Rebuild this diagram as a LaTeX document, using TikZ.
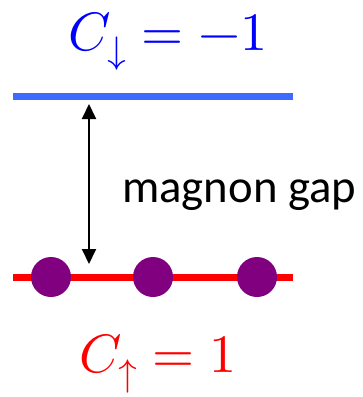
\documentclass[tikz,border=0pt]{standalone}
\usepackage{fontspec}
\usepackage{unicode-math}
\setmainfont{Carlito}
\setmathfont{Latin Modern Math}
\usepackage{tikz}
\usetikzlibrary{arrows.meta,positioning}
\definecolor{bandblue}{RGB}{61,107,255}
\definecolor{bandred}{RGB}{255,0,0}
\definecolor{txtblue}{RGB}{0,0,255}
\definecolor{dotpurple}{RGB}{128,0,128}

\begin{document}
\begin{tikzpicture}[x=1pt,y=-1pt,
  band/.style={line width=7pt},
  magdot/.style={circle,fill=dotpurple,minimum size=40pt,inner sep=0pt},
  lbl/.style={inner sep=0pt,anchor=base},
  gaparr/.style={{Triangle[length=15pt,width=14pt]}-{Triangle[length=15pt,width=14pt]},line width=2pt,black}]
\useasboundingbox (0,0) rectangle (363,397);
% bands
\draw[band,bandblue] (13,96) -- (293,96);
\draw[band,bandred] (13,277) -- (293,277);
% magnons on the lower band
\node[magdot] (m1) at (51,277) {};
\node[magdot] (m2) at (153,277) {};
\node[magdot] (m3) at (257,277) {};
% labels
\node[lbl,txtblue] (cdown) at (168,50) {\fontsize{54}{60}\selectfont$C_{\downarrow}=-1$};
\node[lbl,bandred] (cup) at (158,372) {\fontsize{54}{60}\selectfont$C_{\uparrow}=1$};
% gap
\coordinate (gtop) at (89,104);
\coordinate (gbot) at (89,264);
\draw[gaparr] (gtop) -- (gbot);
\node[lbl,anchor=base west] (gap) at (122,202) {\fontsize{46.7}{56}\selectfont magnon gap};
\end{tikzpicture}
\end{document}
